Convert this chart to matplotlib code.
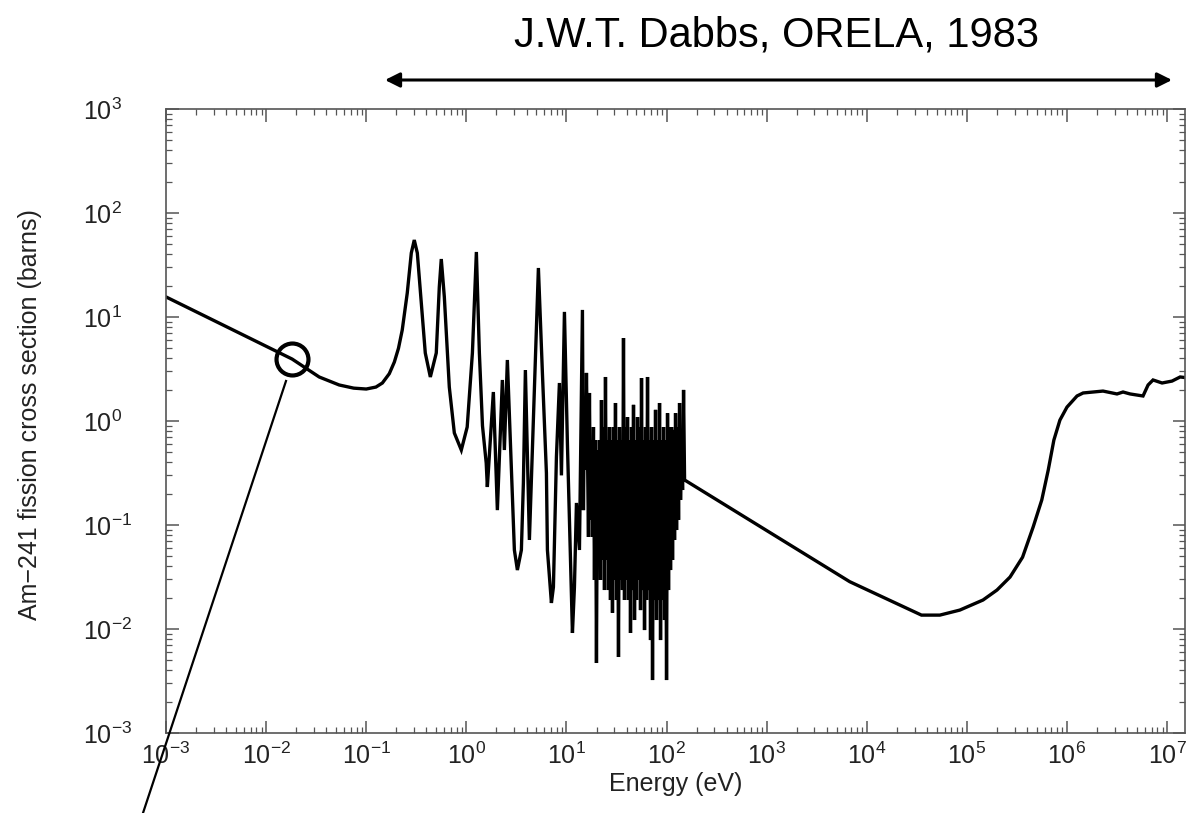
import matplotlib
matplotlib.use("Agg")
import matplotlib.pyplot as plt
from matplotlib.lines import Line2D
from matplotlib.ticker import LogLocator, NullFormatter

plt.rcParams['font.family'] = ['Liberation Sans', 'DejaVu Sans']
plt.rcParams['mathtext.fontset'] = 'custom'
plt.rcParams['mathtext.rm'] = 'Liberation Sans'
plt.rcParams['mathtext.default'] = 'regular'

# 1/v region and the first wide resonances (eV, barns)
thermal_e = [0.001, 0.0182, 0.0339, 0.0537, 0.075, 0.100, 0.125, 0.145, 0.170, 0.191, 0.210,
             0.229, 0.257, 0.270, 0.282, 0.302, 0.324, 0.355, 0.389, 0.437, 0.501, 0.537,
             0.562, 0.603, 0.676, 0.759, 0.891, 1.02, 1.15, 1.26, 1.35, 1.45, 1.58]
thermal_s = [15.6, 3.94, 2.65, 2.22, 2.07, 2.03, 2.12, 2.32, 2.85, 3.69, 5.0,
             7.50, 17.0, 27.0, 41.2, 55.0, 41.2, 13.6, 4.51, 2.65, 4.51, 19.4,
             36.1, 15.6, 2.12, 0.767, 0.526, 0.875, 4.51, 42.2, 4.51, 0.90, 0.394]

# resolved resonances, 1.6 - 16 eV
low_res_e = [1.622, 1.862, 2.042, 2.291, 2.399, 2.570, 2.818, 3.020, 3.236, 3.548, 3.715,
             3.890, 4.266, 5.248, 5.754, 6.310, 6.457, 7.079, 7.413, 7.943, 8.511, 8.913,
             9.550, 10.23, 10.72, 11.48, 12.02, 12.59, 13.49, 14.45, 14.79, 15.14, 15.49,
             15.85, 16.22]
low_res_s = [0.232, 1.90, 0.139, 2.48, 0.526, 3.86, 0.361, 0.0575, 0.0369, 0.0575, 0.253,
             3.09, 0.0718, 29.6, 2.90, 0.316, 0.0575, 0.0178, 0.0253, 0.451, 2.32, 0.30,
             11.2, 0.60, 0.112, 0.00916, 0.0253, 0.163, 0.0575, 11.7, 0.139, 1.59, 0.338,
             2.90, 0.526]

# dense resonance region, 16.6 - 151 eV
dense_e = [16.60, 16.98, 17.38, 17.78, 18.20, 18.62, 19.05, 19.50, 19.95, 20.42,
           20.89, 21.38, 21.88, 22.39, 22.91, 23.44, 23.99, 24.55, 25.12, 25.70,
           26.30, 26.92, 27.54, 28.18, 28.84, 29.51, 30.20, 30.90, 31.62, 32.36,
           33.11, 33.88, 34.67, 35.48, 36.31, 37.15, 38.02, 38.90, 39.81, 40.74,
           41.69, 42.66, 43.65, 44.67, 45.71, 46.77, 47.86, 48.98, 50.12, 51.29,
           52.48, 53.70, 54.95, 56.23, 57.54, 58.88, 60.26, 61.66, 63.10, 64.57,
           66.07, 67.61, 69.18, 70.79, 72.44, 74.13, 75.86, 77.62, 79.43, 81.28,
           83.18, 85.11, 87.10, 89.13, 91.20, 93.33, 95.50, 97.72, 100.0, 102.3,
           104.7, 107.2, 109.6, 112.2, 114.8, 117.5, 120.2, 123.0, 125.9, 128.8,
           131.8, 134.9, 138.0, 141.3, 144.5, 147.9, 151.4]
dense_s = [0.0767, 1.86, 0.112, 0.656, 0.0767, 0.875, 0.0296, 0.656, 0.00471, 0.526,
           0.0461, 0.656, 0.0296, 1.59, 0.0461, 0.875, 0.0237, 2.65, 0.0461, 0.656,
           0.0237, 0.875, 0.0190, 0.656, 0.0143, 0.875, 0.0296, 1.49, 0.0190, 0.656,
           0.00538, 0.875, 0.0296, 0.656, 0.0237, 6.28, 0.0190, 0.875, 0.0296, 1.09,
           0.0190, 0.656, 0.00916, 0.875, 0.0237, 1.43, 0.0122, 0.656, 0.0190, 1.09,
           0.0296, 0.875, 0.0152, 2.59, 0.0237, 0.656, 0.00977, 0.875, 0.0190, 2.65,
           0.0237, 0.656, 0.00783, 0.875, 0.00323, 0.656, 0.0190, 1.28, 0.0122, 0.656,
           0.0190, 1.49, 0.00783, 0.656, 0.0190, 0.875, 0.0122, 0.656, 0.00323, 1.19,
           0.0237, 0.875, 0.0369, 0.875, 0.0461, 0.82, 0.0718, 1.19, 0.0895, 0.875,
           0.112, 1.49, 0.174, 0.656, 0.217, 1.99, 0.271]

# smooth region and fast fission threshold
fast_e = [6760, 35200, 53700, 85000, 1.45e5, 2.0e5, 2.7e5, 3.6e5, 4.6e5, 5.6e5, 6.5e5,
          7.4e5, 8.5e5, 1.0e6, 1.26e6, 1.45e6, 2.29e6, 3.16e6, 3.63e6, 4.27e6, 5.75e6,
          6.46e6, 7.24e6, 8.91e6, 1.12e7, 1.35e7, 1.6e7]
fast_s = [0.0285, 0.0136, 0.0136, 0.0152, 0.019, 0.0237, 0.0316, 0.049, 0.096, 0.174, 0.338,
          0.656, 1.02, 1.36, 1.74, 1.86, 1.94, 1.82, 1.90, 1.82, 1.74,
          2.22, 2.48, 2.32, 2.42, 2.65, 2.60]

marked_point = (0.0182, 3.94)
decades = [1e-3, 1e-2, 1e-1, 1e0, 1e1, 1e2, 1e3, 1e4, 1e5, 1e6, 1e7]
y_decades = [1e-3, 1e-2, 1e-1, 1e0, 1e1, 1e2, 1e3]

energy = thermal_e + low_res_e + dense_e + fast_e
sigma = thermal_s + low_res_s + dense_s + fast_s

fig = plt.figure(figsize=(11.86, 8.13), dpi=100)
ax = fig.add_axes([166 / 1186, 80 / 813, 1019 / 1186, 624 / 813])

ax.plot(energy, sigma, color='black', lw=2.4, solid_joinstyle='miter')
ax.set_xscale('log')
ax.set_yscale('log')
ax.set_xlim(1e-3, 1.51e7)
ax.set_ylim(1e-3, 1e3)

ax.plot(*marked_point, marker='o', ms=23, mfc='none', mec='black', mew=3, clip_on=False)

ax.set_xticks(decades)
ax.set_yticks(y_decades)
for axis in (ax.xaxis, ax.yaxis):
    axis.set_minor_locator(LogLocator(base=10, subs=(2, 3, 4, 5, 6, 7, 8, 9), numticks=60))
    axis.set_minor_formatter(NullFormatter())
for sp in ax.spines.values():
    sp.set_color('#555555')
    sp.set_linewidth(1.2)
ax.tick_params(which='both', direction='in', top=True, right=True, colors='#555555',
               labelcolor='#222222', labelsize=18)
ax.tick_params(which='major', length=9, width=1.1)
ax.tick_params(which='minor', length=4.5, width=0.9)
ax.tick_params(axis='x', pad=7)
ax.tick_params(axis='y', pad=60)
plt.setp(ax.get_yticklabels(), ha='left')

ax.set_xlabel('Energy (eV)', fontsize=18, color='#222222', labelpad=2)
ax.set_ylabel('Am\u2212241 fission cross section (barns)', fontsize=18, color='#222222')
ax.yaxis.set_label_coords(-0.122, 0.51)

fig.text(776 / 1186, 1 - 35 / 813, 'J.W.T. Dabbs, ORELA, 1983', fontsize=30,
         ha='center', va='center')
ax.annotate('', xy=(0.3246, 0.9016), xytext=(0.9882, 0.9016), xycoords='figure fraction',
            textcoords='figure fraction',
            arrowprops=dict(arrowstyle='<|-|>', lw=2.2, color='black', mutation_scale=22,
                            shrinkA=0, shrinkB=0))

fig.add_artist(Line2D([286 / 1186, 143 / 1186], [1 - 381 / 813, 0], color='black', lw=1.6))

fig.savefig('out.png', dpi=100)
